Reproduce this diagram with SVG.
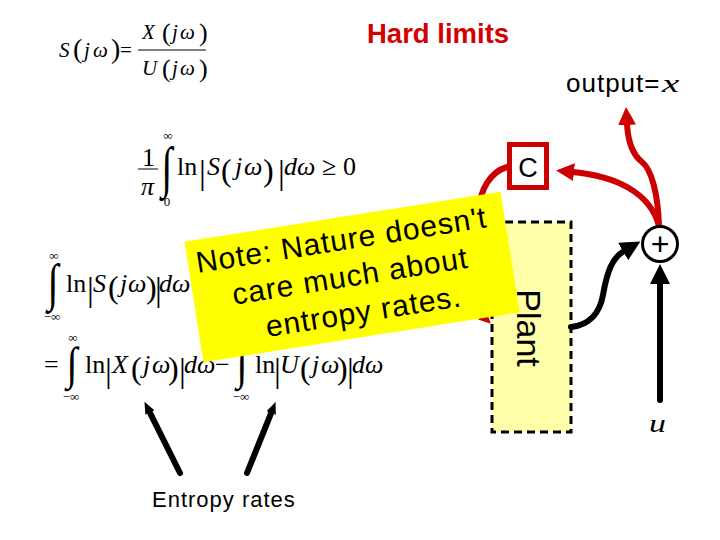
<svg xmlns="http://www.w3.org/2000/svg" width="720" height="540" viewBox="0 0 720 540">
<style>
.m{font-family:"Liberation Serif","Times New Roman",serif;font-size:26px;fill:#000}
.i{font-style:italic}
.s{font-size:13px}
.big{font-size:34px}
.p{font-size:32px}
.int{font-size:40px}
.sans{font-family:"Liberation Sans",Arial,sans-serif;fill:#000}
.red{stroke:#CC0000;fill:none;stroke-width:6;stroke-linecap:round}
.blk{stroke:#000;fill:none;stroke-width:6;stroke-linecap:round}
</style>
<defs>
<marker id="ar" markerUnits="userSpaceOnUse" viewBox="0 0 18 18" markerWidth="18" markerHeight="18" refX="1" refY="9" orient="auto"><path d="M0,0 L18,9 L0,18 z" fill="#CC0000"/></marker>
<marker id="ars" markerUnits="userSpaceOnUse" viewBox="0 0 12 12" markerWidth="12" markerHeight="12" refX="1" refY="6" orient="auto"><path d="M0,0 L12,6 L0,12 z" fill="#CC0000"/></marker>
<marker id="ab" markerUnits="userSpaceOnUse" viewBox="0 0 20 20" markerWidth="20" markerHeight="20" refX="1" refY="10" orient="auto"><path d="M0,0 L20,10 L0,20 z" fill="#000"/></marker>
<marker id="abs" markerUnits="userSpaceOnUse" viewBox="0 0 12 10" markerWidth="12" markerHeight="10" refX="1" refY="5" orient="auto"><path d="M0,0 L12,5 L0,10 z" fill="#000"/></marker>
</defs>
<rect width="720" height="540" fill="#fff"/>

<g id="formula1" class="m">
<text x="59" y="57" class="i" font-size="21">S</text>
<text x="73" y="58" font-size="28">(</text>
<text x="84" y="57" class="i" font-size="21">j</text>
<text x="93" y="57" class="i" font-size="21">ω</text>
<text x="111" y="58" font-size="28">)</text>
<text x="120" y="57" font-size="21">=</text>
<line x1="138" y1="50" x2="206" y2="50" stroke="#000" stroke-width="1"/>
<text x="142" y="39" class="i" font-size="21">X</text>
<text x="162" y="41" font-size="26">(</text>
<text x="172" y="39" class="i" font-size="21">j</text>
<text x="180" y="39" class="i" font-size="21">ω</text>
<text x="199" y="41" font-size="26">)</text>
<text x="142" y="75" class="i" font-size="21">U</text>
<text x="162" y="77" font-size="26">(</text>
<text x="172" y="75" class="i" font-size="21">j</text>
<text x="180" y="75" class="i" font-size="21">ω</text>
<text x="199" y="77" font-size="26">)</text>
</g>

<g id="formula2" class="m">
<text x="142" y="166">1</text>
<line x1="138" y1="169" x2="158" y2="169" stroke="#000" stroke-width="1"/>
<text x="141" y="195" class="i">π</text>
<text transform="translate(167,186) scale(1,1.4)" text-anchor="middle" class="int">∫</text>
<text x="168" y="140" text-anchor="middle" class="s">∞</text>
<text x="167" y="206" text-anchor="middle" class="s">0</text>
<text x="177" y="175">ln</text>
<text x="199" y="184" class="big">|</text>
<text x="207" y="175" class="i">S</text>
<text x="221" y="181" class="p">(</text>
<text x="235" y="175" class="i">j</text>
<text x="244" y="175" class="i">ω</text>
<text x="263" y="181" class="p">)</text>
<text x="278" y="184" class="big">|</text>
<text x="284" y="175" class="i">d</text>
<text x="297" y="175" class="i">ω</text>
<text x="322" y="175">≥</text>
<text x="343" y="175">0</text>
</g>

<g id="formula3" class="m">
<text transform="translate(53,300) scale(1,1.3)" text-anchor="middle" class="int">∫</text>
<text x="54" y="260" text-anchor="middle" class="s">∞</text>
<text x="52" y="321" text-anchor="middle" class="s">−∞</text>
<text x="66" y="292">ln</text>
<text x="87" y="301" class="big">|</text>
<text x="93" y="292" class="i">S</text>
<text x="108" y="298" class="p">(</text>
<text x="120" y="292" class="i">j</text>
<text x="128" y="292" class="i">ω</text>
<text x="146" y="298" class="p">)</text>
<text x="155" y="301" class="big">|</text>
<text x="159" y="292" class="i">d</text>
<text x="172" y="292" class="i">ω</text>
</g>

<g id="formula4" class="m">
<text x="44" y="373">=</text>
<text transform="translate(72,379) scale(1,1.15)" text-anchor="middle" class="int">∫</text>
<text x="73" y="342" text-anchor="middle" class="s">∞</text>
<text x="71" y="401" text-anchor="middle" class="s">−∞</text>
<text x="85" y="373">ln</text>
<text x="105" y="382" class="big">|</text>
<text x="112" y="373" class="i">X</text>
<text x="131" y="379" class="p">(</text>
<text x="143" y="373" class="i">j</text>
<text x="152" y="373" class="i">ω</text>
<text x="168" y="379" class="p">)</text>
<text x="179" y="382" class="big">|</text>
<text x="184" y="373" class="i">d</text>
<text x="197" y="373" class="i">ω</text>
<text x="215" y="373">−</text>
<text transform="translate(242,379) scale(1,1.15)" text-anchor="middle" class="int">∫</text>
<text x="241" y="401" text-anchor="middle" class="s">−∞</text>
<text x="255" y="373">ln</text>
<text x="274" y="382" class="big">|</text>
<text x="280" y="373" class="i">U</text>
<text x="300" y="379" class="p">(</text>
<text x="312" y="373" class="i">j</text>
<text x="321" y="373" class="i">ω</text>
<text x="337" y="379" class="p">)</text>
<text x="347" y="382" class="big">|</text>
<text x="352" y="373" class="i">d</text>
<text x="365" y="373" class="i">ω</text>
</g>

<text id="title" x="367" y="43" class="sans" font-size="27.5" font-weight="bold" style="fill:#D40000">Hard limits</text>
<g id="output-label">
<text x="566" y="92" class="sans" font-size="26" letter-spacing="1">output=</text>
<text transform="translate(662,92) scale(1.5,1)" class="m i" font-size="28">x</text>
</g>
<text id="u-label" transform="translate(649,432) scale(1.3,1)" class="m i" font-size="36">u</text>
<text id="entropy-label" x="152" y="507" class="sans" font-size="22" letter-spacing="1">Entropy rates</text>

<g id="node-plant">
<rect x="492" y="222" width="79" height="210" fill="#FFFFAA" stroke="#000" stroke-width="3" stroke-dasharray="8,5"/>
<text transform="translate(517,328) rotate(90)" text-anchor="middle" class="sans" font-size="34">Plant</text>
</g>

<g id="connectors">
<path class="red" d="M659 226 C650 192 615 176 573 172" marker-end="url(#ar)"/>
<path class="red" d="M659 226 C658 195 652 170 642 162 C633 155 628 142 627 124" marker-end="url(#ar)"/>
<path class="red" d="M507 167 C490 172 480 190 479 210 L479 300 C479 308 480 313 483 316" marker-end="url(#ars)"/>
<path class="blk" d="M571 327 C590 325 600 312 603 295 C607 272 612 258 624 251" marker-end="url(#ab)"/>
<path class="blk" d="M660 400 L660 283" stroke-width="7" stroke-linecap="butt" marker-end="url(#ab)"/>
<path class="blk" d="M180 473 L149.4 411.7" stroke-width="3" marker-end="url(#abs)"/>
<path class="blk" d="M247 473 L271.5 412.1" stroke-width="3" marker-end="url(#abs)"/>
</g>

<g id="node-C">
<rect x="509.5" y="144.5" width="37" height="43" fill="#fff" stroke="#CC0000" stroke-width="5"/>
<text x="528" y="177" text-anchor="middle" class="sans" font-size="27">C</text>
</g>

<g id="node-sum">
<circle cx="660" cy="244" r="17.5" fill="#fff" stroke="#000" stroke-width="3"/>
<text x="660" y="255" text-anchor="middle" class="sans" font-size="32">+</text>
</g>

<g id="note" transform="translate(352,277) rotate(-9)">
<rect x="-160" y="-61" width="320" height="122" fill="#FFFF00"/>
<text class="sans" font-size="30" letter-spacing="1" text-anchor="middle">
<tspan x="0" y="-28">Note: Nature doesn't</tspan>
<tspan x="3" y="9">care much about</tspan>
<tspan x="6" y="46">entropy rates.</tspan>
</text>
</g>
</svg>
